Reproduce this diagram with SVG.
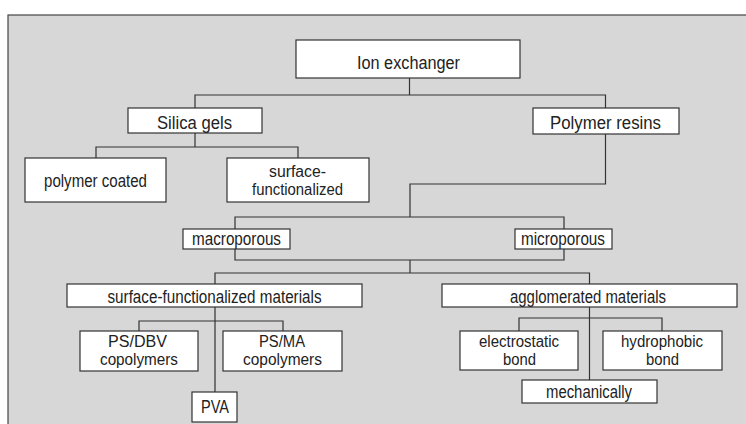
<svg xmlns="http://www.w3.org/2000/svg" width="746" height="424" viewBox="0 0 746 424">
<style>
.box{fill:#fff;stroke:#333;stroke-width:1.2}
.t{font-family:"Liberation Sans",Arial,sans-serif;font-size:17.5px;fill:#222;text-anchor:middle}
.t2{font-size:16px}
.c{fill:none;stroke:#333;stroke-width:1.2}
</style>
<rect x="0" y="0" width="746" height="424" fill="#fff"/>
<rect x="8" y="15" width="745" height="420" fill="#d6d7d6" stroke="#444" stroke-width="1.2"/>
<g id="connectors" class="c">
<path d="M409.5 78V95M195 108V95H605.5V108"/>
<path d="M195 133V147M96 158V147H298V158"/>
<path d="M605.5 134V184H410V217"/>
<path d="M235 229V217H564V229M235 249V260H564V249"/>
<path d="M410 260V273M215 284V273H589.5V284"/>
<path d="M215 307V392M139 331V321H283V331"/>
<path d="M589.5 307V380M519 331V318H662V331"/>
</g>
<g id="ion"><rect class="box" x="296" y="40" width="224" height="38"/><text class="t" x="408.5" y="69" textLength="103" lengthAdjust="spacingAndGlyphs">Ion exchanger</text></g>
<g id="silica"><rect class="box" x="128" y="108" width="134" height="25"/><text class="t" x="194.5" y="129" textLength="75" lengthAdjust="spacingAndGlyphs">Silica gels</text></g>
<g id="polymer"><rect class="box" x="533" y="108" width="146" height="26"/><text class="t" x="605.5" y="128.5" textLength="111" lengthAdjust="spacingAndGlyphs">Polymer resins</text></g>
<g id="coated"><rect class="box" x="25" y="158" width="141" height="44"/><text class="t" x="95.5" y="187" textLength="103" lengthAdjust="spacingAndGlyphs">polymer coated</text></g>
<g id="surface"><rect class="box" x="227" y="158" width="142" height="44"/><text class="t t2" x="297.5" y="176.5" textLength="57" lengthAdjust="spacingAndGlyphs">surface-</text><text class="t t2" x="297.5" y="195" textLength="91" lengthAdjust="spacingAndGlyphs">functionalized</text></g>
<g id="macro"><rect class="box" x="183" y="229" width="107" height="20"/><text class="t" x="236.5" y="244.5" textLength="89" lengthAdjust="spacingAndGlyphs">macroporous</text></g>
<g id="micro"><rect class="box" x="515" y="229" width="97" height="20"/><text class="t" x="563" y="244.5" textLength="84" lengthAdjust="spacingAndGlyphs">microporous</text></g>
<g id="sfm"><rect class="box" x="67" y="284" width="295" height="23"/><text class="t" x="214.5" y="302.5" textLength="214" lengthAdjust="spacingAndGlyphs">surface-functionalized materials</text></g>
<g id="agg"><rect class="box" x="442" y="284" width="295" height="23"/><text class="t" x="588" y="302.5" textLength="156" lengthAdjust="spacingAndGlyphs">agglomerated materials</text></g>
<g id="psdbv"><rect class="box" x="80" y="331" width="118" height="40"/><text class="t t2" x="137.5" y="346.5" textLength="59" lengthAdjust="spacingAndGlyphs">PS/DBV</text><text class="t t2" x="139" y="365" textLength="78" lengthAdjust="spacingAndGlyphs">copolymers</text></g>
<g id="psma"><rect class="box" x="223" y="331" width="119" height="40"/><text class="t t2" x="282" y="346.5" textLength="46" lengthAdjust="spacingAndGlyphs">PS/MA</text><text class="t t2" x="282.5" y="365" textLength="79" lengthAdjust="spacingAndGlyphs">copolymers</text></g>
<g id="pva"><rect class="box" x="192" y="392" width="45" height="30"/><text class="t" x="215" y="413" textLength="28" lengthAdjust="spacingAndGlyphs">PVA</text></g>
<g id="electro"><rect class="box" x="460" y="331" width="118" height="39"/><text class="t t2" x="519" y="346.5" textLength="80" lengthAdjust="spacingAndGlyphs">electrostatic</text><text class="t t2" x="519.5" y="365" textLength="33" lengthAdjust="spacingAndGlyphs">bond</text></g>
<g id="hydro"><rect class="box" x="603" y="331" width="119" height="39"/><text class="t t2" x="662" y="346.5" textLength="82" lengthAdjust="spacingAndGlyphs">hydrophobic</text><text class="t t2" x="662.5" y="365" textLength="33" lengthAdjust="spacingAndGlyphs">bond</text></g>
<g id="mech"><rect class="box" x="522" y="380" width="135" height="23"/><text class="t" x="589" y="398" textLength="86" lengthAdjust="spacingAndGlyphs">mechanically</text></g>
</svg>
